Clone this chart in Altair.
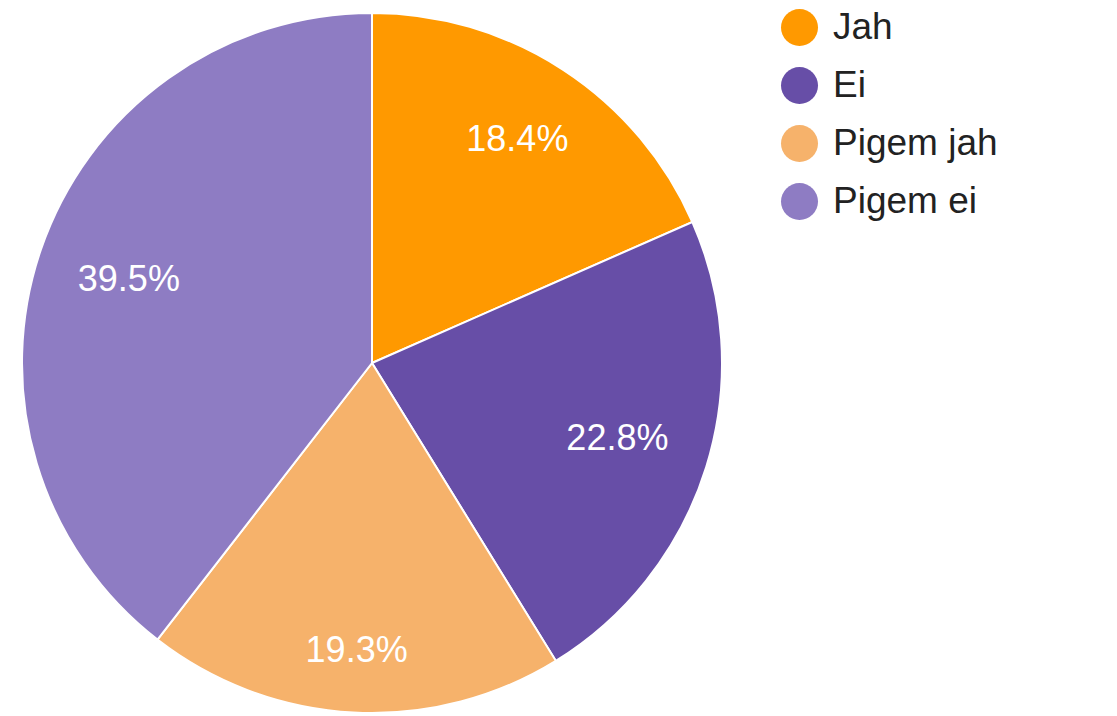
import altair as alt
import pandas as pd

categories = ["Jah", "Ei", "Pigem jah", "Pigem ei"]
shares = [18.4, 22.8, 19.3, 39.5]
labels = ["18.4%", "22.8%", "19.3%", "39.5%"]
colors = ["#ff9900", "#674ea7", "#f6b26b", "#8e7cc3"]

df = pd.DataFrame({
    "category": categories,
    "share": shares,
    "label": labels,
    "order": list(range(len(categories))),
})

color_scale = alt.Scale(domain=categories, range=colors)

base = alt.Chart(df).encode(
    theta=alt.Theta("share:Q", stack=True),
    order=alt.Order("order:Q"),
)

pie = base.mark_arc(outerRadius=350, stroke="white", strokeWidth=2).encode(
    x=alt.value(364),
    y=alt.value(355),
    color=alt.Color(
        "category:N",
        scale=color_scale,
        sort=categories,
        legend=alt.Legend(
            title=None,
            orient="none",
            legendX=773,
            legendY=1,
            symbolType="circle",
            symbolSize=1369,
            symbolStrokeWidth=0,
            labelFont="Liberation Sans",
            labelFontSize=37,
            labelColor="#222222",
            labelOffset=15,
            labelLimit=400,
            rowPadding=20,
        ),
    ),
)

text_style = dict(
    font="Liberation Sans",
    fontSize=36,
    color="white",
    align="center",
    baseline="middle",
)

# stack over the full data first, then filter, so the angles stay the same
label_base = (
    alt.Chart(df)
    .transform_window(
        cum="sum(share)", sort=[alt.SortField("order")], frame=[None, 0]
    )
    .transform_calculate(mid="datum.cum - datum.share / 2")
    .encode(
        theta=alt.Theta("mid:Q", scale=alt.Scale(domain=[0, 100], range=[0, 6.283185307179586])),
        x=alt.value(364),
        y=alt.value(355),
        text="label:N",
    )
)

text_main = label_base.transform_filter(
    "datum.category == 'Ei' || datum.category == 'Pigem ei'"
).mark_text(radius=257, **text_style)
text_top = label_base.transform_filter("datum.category == 'Jah'").mark_text(
    radius=266, **text_style
)
text_bottom = label_base.transform_filter(
    "datum.category == 'Pigem jah'"
).mark_text(radius=288, **text_style)

chart = (
    alt.layer(pie, text_main, text_top, text_bottom)
    .resolve_scale(theta="independent")
    .properties(width=730, height=700, padding=0)
    .configure_view(stroke=None)
)

chart.save("out.html", embed_options={"renderer": "svg", "actions": False})
